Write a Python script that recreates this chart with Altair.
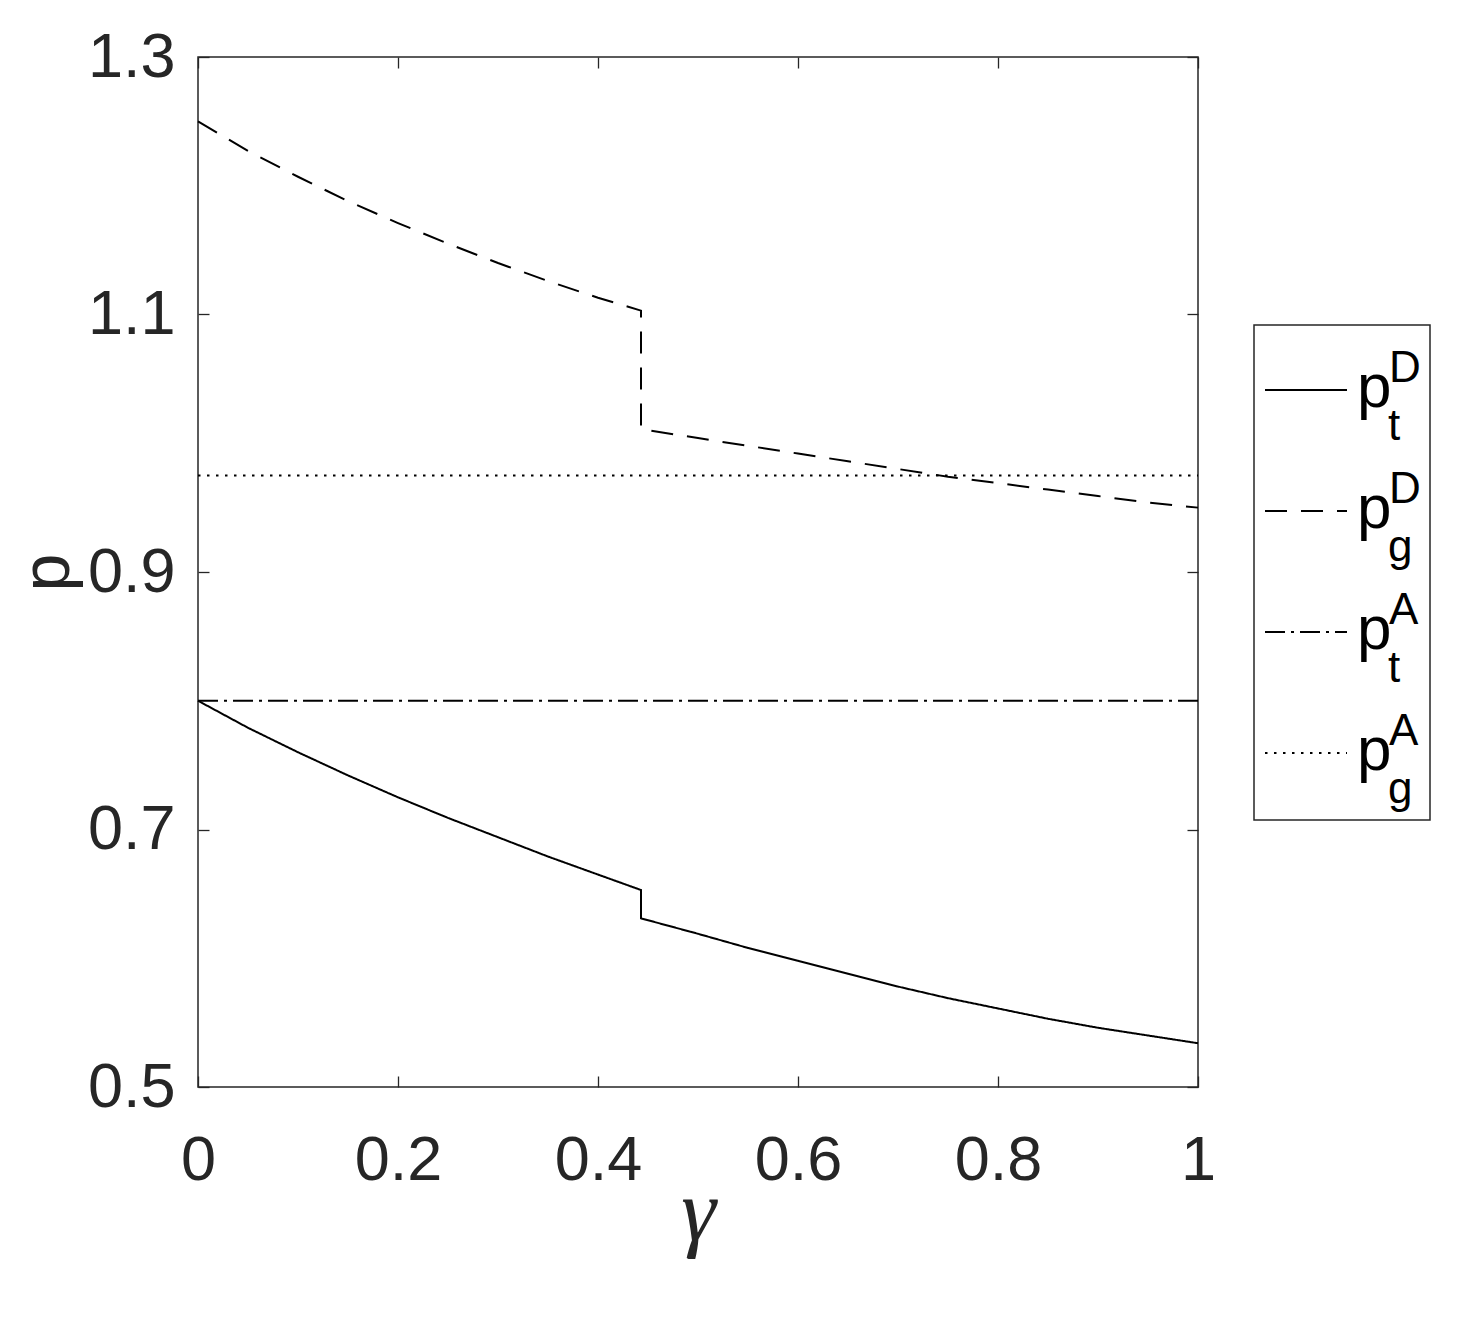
import altair as alt
import pandas as pd

# ---------------- data ----------------
series_names = ["p_t^D", "p_g^D", "p_t^A", "p_g^A"]

gamma_D = [0.0, 0.05, 0.1, 0.15, 0.2, 0.25, 0.3, 0.35, 0.4, 0.443,
           0.443, 0.5, 0.55, 0.6, 0.65, 0.7, 0.75, 0.8, 0.85, 0.9, 0.95, 1.0]
p_t_D = [0.800, 0.779, 0.760, 0.742, 0.725, 0.709, 0.694, 0.679, 0.665, 0.653,
         0.631, 0.619, 0.608, 0.598, 0.588, 0.578, 0.569, 0.561, 0.553, 0.546, 0.540, 0.534]
p_g_D = [1.250, 1.227, 1.207, 1.188, 1.171, 1.155, 1.140, 1.126, 1.113, 1.103,
         1.011, 1.004, 0.998, 0.992, 0.986, 0.980, 0.974, 0.969, 0.964, 0.959, 0.954, 0.950]
gamma_A = [0.0, 1.0]
p_t_A = [0.800, 0.800]
p_g_A = [0.975, 0.975]

x_ticks = [0, 0.2, 0.4, 0.6, 0.8, 1.0]
y_ticks = [0.5, 0.7, 0.9, 1.1, 1.3]

legend_sup = ["D", "D", "A", "A"]
legend_sub = ["t", "g", "t", "g"]

# ---------------- build table ----------------
rows = []
for name, xs, ys in [("p_t^D", gamma_D, p_t_D), ("p_g^D", gamma_D, p_g_D),
                     ("p_t^A", gamma_A, p_t_A), ("p_g^A", gamma_A, p_g_A)]:
    for i, (gx, py) in enumerate(zip(xs, ys)):
        rows.append({"series": name, "gamma": gx, "p": py, "idx": i})
df = pd.DataFrame(rows)

# ---------------- styling ----------------
W, H = 1000, 1030
INK = "#262626"
FONT = "Liberation Sans"
dash_range = [[1, 0], [22, 14], [20, 6, 3, 6], [2.5, 6.5]]
xscale = alt.Scale(domain=[0, 1], nice=False, zero=False)
yscale = alt.Scale(domain=[0.5, 1.3], nice=False, zero=False)

common_axis = dict(domain=False, grid=False, tickSize=11, tickWidth=1.3,
                   tickColor=INK, labelColor=INK, labelFont=FONT,
                   labelFontSize=63)

x_axis_main = alt.Axis(orient="top", offset=-H, values=x_ticks, format="~g",
                       labelPadding=-53, labelBaseline="top", labelAlign="center",
                       labelFlush=False, labelOverlap=False,
                       title="γ", titleX=W / 2, titleY=152, titleAngle=0,
                       titleAlign="center", titleBaseline="alphabetic",
                       titleFont="Liberation Serif", titleFontStyle="italic",
                       titleFontWeight="normal", titleFontSize=88, titleColor=INK,
                       **common_axis)
y_axis_main = alt.Axis(orient="right", offset=-W, values=y_ticks, format=".1f",
                       labelPadding=-34, labelAlign="right", labelBaseline="middle",
                       labelFlush=False, labelOverlap=False,
                       title="p", titleX=-130, titleY=515, titleAngle=270,
                       titleAlign="center", titleBaseline="alphabetic",
                       titleFont=FONT, titleFontWeight="normal", titleFontSize=68,
                       titleColor=INK, **common_axis)

x_axis_mirror = alt.Axis(orient="bottom", offset=-H, values=x_ticks, labels=False,
                         title=None, **common_axis)
y_axis_mirror = alt.Axis(orient="left", offset=-W, values=y_ticks, labels=False,
                         title=None, **common_axis)

lines = alt.Chart(df).mark_line(color="black", strokeWidth=2, strokeJoin="miter",
                                strokeCap="butt").encode(
    x=alt.X("gamma:Q", scale=xscale, axis=x_axis_main),
    y=alt.Y("p:Q", scale=yscale, axis=y_axis_main),
    strokeDash=alt.StrokeDash("series:N", scale=alt.Scale(domain=series_names, range=dash_range),
                              legend=None),
    detail="series:N",
    order=alt.Order("idx:Q"),
)

mirror = alt.Chart(df).mark_line(opacity=0).encode(
    x=alt.X("gamma:Q", scale=xscale, axis=x_axis_mirror),
    y=alt.Y("p:Q", scale=yscale, axis=y_axis_mirror),
    detail="series:N",
)

# ---------------- manual legend ----------------
one = pd.DataFrame({"k": [0]})
layers = [lines, mirror]
layers.append(alt.Chart(one).mark_rect(fill="white", stroke=INK, strokeWidth=1.5).encode(
    x=alt.value(1056), x2=alt.value(1232), y=alt.value(268), y2=alt.value(763)))
for i in range(4):
    yl = 333 + 121 * i
    layers.append(alt.Chart(one).mark_rule(color="black", strokeWidth=2,
                                           strokeDash=dash_range[i], strokeCap="butt").encode(
        x=alt.value(1067), x2=alt.value(1149), y=alt.value(yl)))
    layers.append(alt.Chart(one).mark_text(text="p", font=FONT, fontSize=62, color="black",
                                           align="left", baseline="alphabetic").encode(
        x=alt.value(1159), y=alt.value(yl + 17)))
    layers.append(alt.Chart(one).mark_text(text=legend_sup[i], font=FONT, fontSize=44,
                                           color="black", align="left",
                                           baseline="alphabetic").encode(
        x=alt.value(1191), y=alt.value(yl - 8)))
    layers.append(alt.Chart(one).mark_text(text=legend_sub[i], font=FONT, fontSize=44,
                                           color="black", align="left",
                                           baseline="alphabetic").encode(
        x=alt.value(1190), y=alt.value(yl + 50)))

chart = alt.layer(*layers).properties(
    width=W, height=H,
    padding={"left": 190, "top": 49, "right": 270, "bottom": 230},
    autosize=alt.AutoSizeParams(type="none"),
    background="white",
).configure_view(stroke=INK, strokeWidth=1.5)

chart.save("out.html", embed_options={"renderer": "svg", "actions": False})
